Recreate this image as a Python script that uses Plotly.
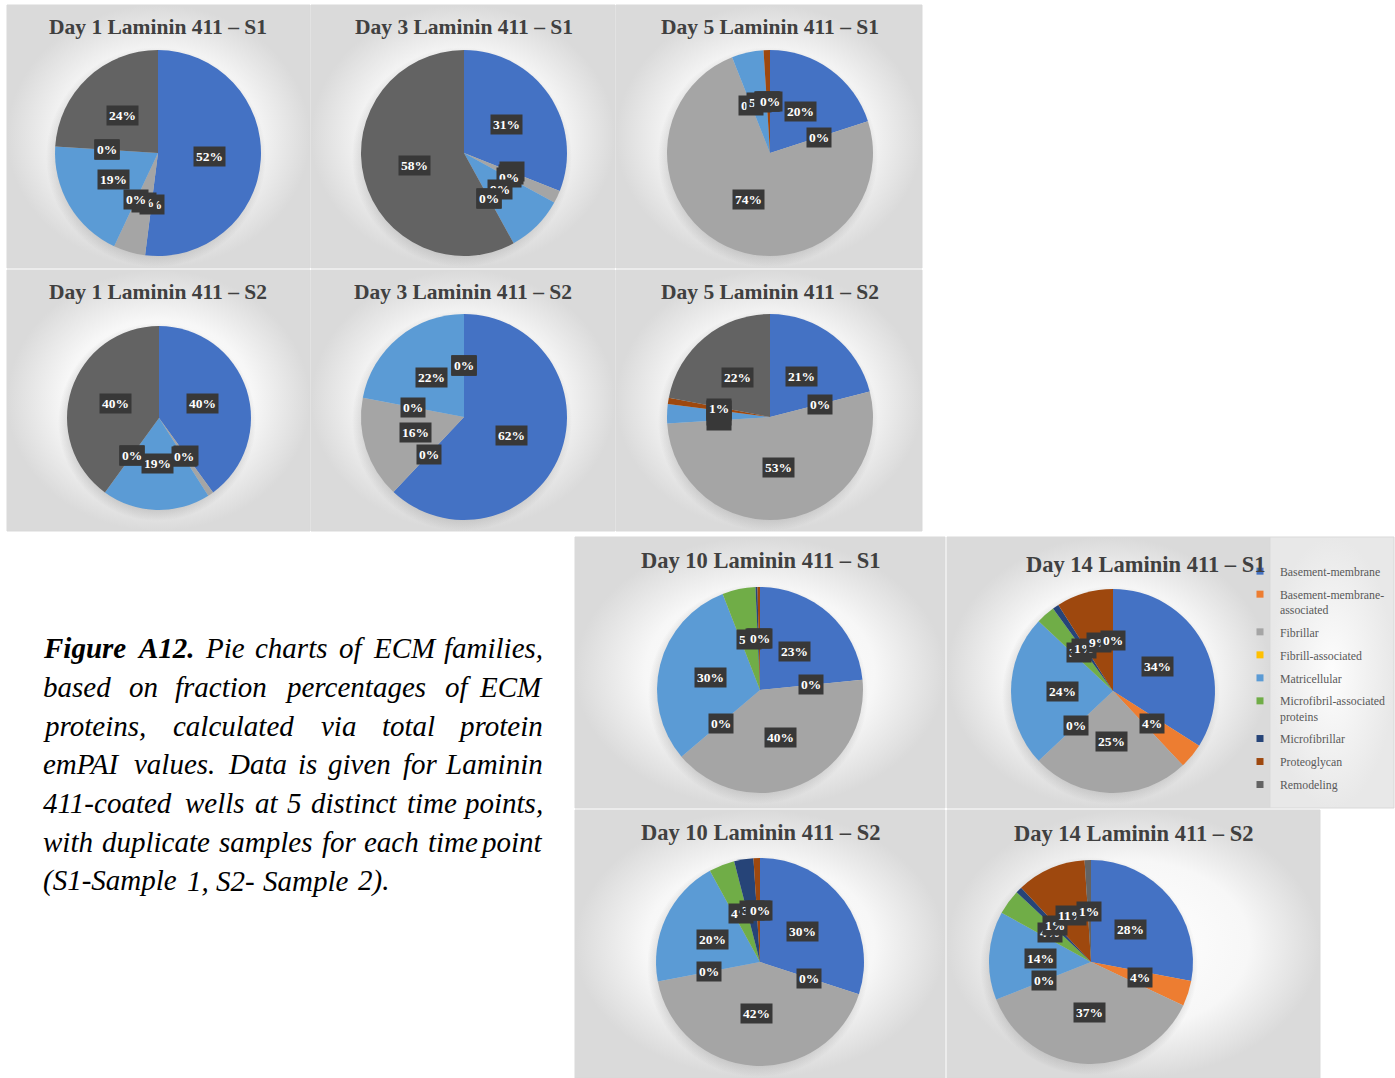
import math
import plotly.graph_objects as go

W, H = 1395, 1078

# ---------------- data ----------------
categories = ["Basement-membrane", "Basement-membrane-associated", "Fibrillar",
              "Fibrill-associated", "Matricellular", "Microfibril-associated proteins",
              "Microfibrillar", "Proteoglycan", "Remodeling"]
legend_labels = ["Basement-membrane", "Basement-membrane-<br>associated", "Fibrillar",
                 "Fibrill-associated", "Matricellular", "Microfibril-associated<br>proteins",
                 "Microfibrillar", "Proteoglycan", "Remodeling"]
colors = ["#4472C4", "#ED7D31", "#A5A5A5", "#FFC000", "#5B9BD5",
          "#70AD47", "#264478", "#9E480E", "#636363"]

titles = ["Day 1 Laminin 411 – S1", "Day 3 Laminin 411 – S1", "Day 5 Laminin 411 – S1",
          "Day 1 Laminin 411 – S2", "Day 3 Laminin 411 – S2", "Day 5 Laminin 411 – S2",
          "Day 10 Laminin 411 – S1", "Day 14 Laminin 411 – S1",
          "Day 10 Laminin 411 – S2", "Day 14 Laminin 411 – S2"]

# percentages, in category order
day1_s1 = [52, 0, 5, 0, 19, 0, 0, 0, 24]
day3_s1 = [31, 0, 2, 0, 9, 0, 0, 0, 58]
day5_s1 = [20, 0, 74, 0, 5, 0, 0, 1, 0]
day1_s2 = [40, 0, 1, 0, 19, 0, 0, 0, 40]
day3_s2 = [62, 0, 16, 0, 22, 0, 0, 0, 0]
day5_s2 = [21, 0, 53, 0, 3, 0, 0, 1, 22]
day10_s1 = [23.4, 0, 40.4, 0, 30.3, 5.2, 0.3, 0.4, 0]
day14_s1 = [34, 4, 25, 0, 24, 3, 1, 9, 0]
day10_s2 = [30, 0, 42, 0, 20, 4, 3, 1, 0]
day14_s2 = [28, 4, 37, 0, 14, 4, 1, 11, 1]

series = [day1_s1, day3_s1, day5_s1, day1_s2, day3_s2, day5_s2,
          day10_s1, day14_s1, day10_s2, day14_s2]

# caption: (text, bold) words per line; the last line is not justified
caption_lines = [
    [("Figure", True), ("A12.", True), ("Pie", False), ("charts", False), ("of", False),
     ("ECM", False), ("families,", False)],
    [(w, False) for w in "based on fraction percentages of ECM".split()],
    [(w, False) for w in "proteins, calculated via total protein".split()],
    [(w, False) for w in "emPAI values. Data is given for Laminin".split()],
    [(w, False) for w in "411-coated wells at 5 distinct time points,".split()],
    [(w, False) for w in "with duplicate samples for each time point".split()],
    [(w, False) for w in "(S1-Sample 1, S2- Sample 2).".split()],
]

# ---------------- layout geometry (pixels) ----------------
panels = [
    dict(rect=(7, 5, 310, 268), c=(158, 153), R=103, t=(158, 27), ts=21.5),
    dict(rect=(311, 5, 615, 268), c=(464, 153), R=103, t=(464, 27), ts=21.5),
    dict(rect=(616, 5, 922, 268), c=(770, 153), R=103, t=(770, 27), ts=21.5),
    dict(rect=(7, 270, 310, 531), c=(159, 418), R=92, t=(158, 292), ts=21.5),
    dict(rect=(311, 270, 615, 531), c=(464, 417), R=103, t=(463, 292), ts=21.5),
    dict(rect=(616, 270, 922, 531), c=(770, 417), R=103, t=(770, 292), ts=21.5),
    dict(rect=(575, 537, 945, 808), c=(760, 690), R=103, t=(760, 560), ts=22.5),
    dict(rect=(947, 537, 1270, 808), c=(1113, 691), R=102, t=(1145, 564), ts=22.5),
    dict(rect=(575, 810, 945, 1078), c=(760, 962), R=104, t=(760, 832), ts=22.5),
    dict(rect=(947, 810, 1320, 1078), c=(1091, 962), R=102, t=(1133, 833), ts=22.5),
]
extra_bg = [(1270, 537, 1394, 808)]

CAP_X0, CAP_X1, CAP_Y0, CAP_DY, CAP_FS = 41, 545, 648, 38.8, 29

# approximate Times italic advance widths (per 1000 em) for justification
IT = dict(zip("abcdefghilmnoprstuvwy", [500, 500, 444, 500, 444, 278, 500, 500, 278, 278, 722,
                                        500, 500, 500, 389, 389, 278, 500, 444, 667, 444]))
IT.update(dict(zip("ACDEFILMPS", [611, 667, 722, 611, 611, 333, 556, 833, 611, 500])))
IT.update({"1": 500, "2": 500, "4": 500, "5": 500, ",": 250, ".": 250, "-": 333,
           "(": 333, ")": 333})
BI = dict(IT)
BI.update({"F": 667, "u": 556, "A": 667})


def word_w(w, bold):
    tab = BI if bold else IT
    return sum(tab.get(ch, 500) for ch in w) / 1000.0 * CAP_FS * 1.022


fig = go.Figure()

bg_scale = [[0, "#ffffff"], [0.62, "#f7f7f7"], [1, "#dadada"]]


def add_bg(rect, scale=bg_scale):
    x0, y0, x1, y1 = rect
    fig.add_trace(go.Scatter(
        x=[x0, x1, x1, x0, x0], y=[y0, y0, y1, y1, y0], mode="lines",
        line=dict(color="#d9d9d9", width=1), fill="toself",
        fillgradient=dict(type="radial", colorscale=scale),
        hoverinfo="skip", showlegend=False))


for p in panels:
    add_bg(p["rect"])
for r in extra_bg:
    add_bg(r, [[0, "#fdfdfd"], [1, "#e8e8e8"]])

# soft pie shadows
for p in panels:
    cx, cy = p["c"]
    R = p["R"] + 7
    n = 90
    xs = [cx - 2 + R * math.cos(2 * math.pi * k / n) for k in range(n + 1)]
    ys = [cy + 4 + R * math.sin(2 * math.pi * k / n) for k in range(n + 1)]
    fig.add_trace(go.Scatter(
        x=xs, y=ys, mode="lines", line=dict(width=0, color="rgba(0,0,0,0)"), fill="toself",
        fillgradient=dict(type="radial", colorscale=[[0, "rgba(90,90,90,0.35)"],
                                                     [0.88, "rgba(90,90,90,0.22)"],
                                                     [1, "rgba(90,90,90,0)"]]),
        hoverinfo="skip", showlegend=False))

annotations = []
for p, vals, title in zip(panels, series, titles):
    cx, cy = p["c"]
    R = p["R"]
    fig.add_trace(go.Pie(
        labels=categories, values=vals, sort=False, direction="clockwise",
        rotation=0, textinfo="none", hoverinfo="label+percent",
        marker=dict(colors=colors, line=dict(width=0)),
        domain=dict(x=[(cx - R) / W, (cx + R) / W], y=[1 - (cy + R) / H, 1 - (cy - R) / H]),
        showlegend=False))
    tx, ty = p["t"]
    annotations.append(dict(x=tx, y=ty, xref="x", yref="y", text="<b>%s</b>" % title,
                            showarrow=False, font=dict(family="Liberation Serif", size=p["ts"],
                                                       color="#404040")))
    total = sum(vals)
    cum = 0.0
    for v in vals:
        mid = (cum + v / 2.0) / total
        cum += v
        th = 2 * math.pi * mid
        lx = cx + 0.5 * R * math.sin(th)
        ly = cy - 0.5 * R * math.cos(th)
        pct = int(v / total * 100 + 0.5)
        annotations.append(dict(x=lx, y=ly, xref="x", yref="y", text="<b>%d%%</b>" % pct,
                                showarrow=False, bgcolor="#383838", borderpad=2,
                                font=dict(family="Liberation Serif", size=13.5, color="white")))

# legend entries
for lab, col in zip(legend_labels, colors):
    fig.add_trace(go.Scatter(x=[None], y=[None], mode="markers", name=lab, legendgroup=lab,
                             marker=dict(symbol="square", size=7, color=col),
                             showlegend=True, hoverinfo="skip"))

# caption, justified word by word
for i, words in enumerate(caption_lines):
    y = CAP_Y0 + i * CAP_DY
    widths = [word_w(w, b) for w, b in words]
    last = i == len(caption_lines) - 1
    gap = 0.25 * CAP_FS if last else (CAP_X1 - CAP_X0 - sum(widths)) / (len(words) - 1)
    x = CAP_X0
    for j, ((w, b), ww) in enumerate(zip(words, widths)):
        txt = "<i>%s</i>" % w
        if b:
            txt = "<b>%s</b>" % txt
        if j == len(words) - 1 and not last:
            annotations.append(dict(x=CAP_X1, y=y, xref="x", yref="y", text=txt,
                                    xanchor="right", yanchor="middle", showarrow=False,
                                    font=dict(family="Liberation Serif", size=CAP_FS,
                                              color="black")))
        else:
            annotations.append(dict(x=x, y=y, xref="x", yref="y", text=txt,
                                    xanchor="left", yanchor="middle", showarrow=False,
                                    font=dict(family="Liberation Serif", size=CAP_FS,
                                              color="black")))
        x += ww + gap

fig.update_layout(
    width=W, height=H, margin=dict(l=0, r=0, t=0, b=0),
    paper_bgcolor="white", plot_bgcolor="rgba(0,0,0,0)",
    xaxis=dict(range=[0, W], visible=False, domain=[0, 1], fixedrange=True),
    yaxis=dict(range=[H, 0], visible=False, domain=[0, 1], fixedrange=True),
    annotations=annotations,
    legend=dict(x=1240 / W, y=1 - 557 / H, xanchor="left", yanchor="top",
                font=dict(family="Liberation Serif", size=11.8, color="#595959"),
                bgcolor="rgba(0,0,0,0)", tracegroupgap=4, itemwidth=30, valign="top"),
    showlegend=True,
)

fig.write_html("out.html")
